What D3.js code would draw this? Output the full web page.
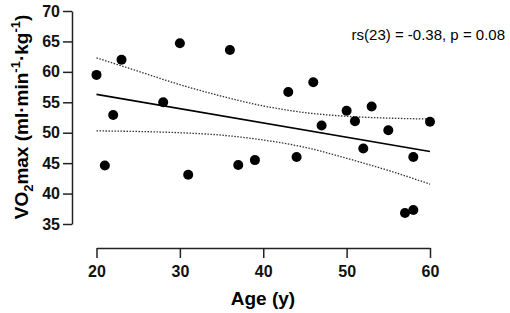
<!DOCTYPE html>
<html>
<head>
<meta charset="utf-8">
<script src="https://cdn.jsdelivr.net/npm/d3@7"></script>
<style>
    body { margin: 0; background: #fff; }
    svg { display: block; font-family: "Liberation Sans", Arial, sans-serif; }
    .axis path, .axis line { stroke: #222; stroke-width: 1.5; }
    .axis text { font-size: 16px; font-weight: bold; fill: #111; }
</style>
</head>
<body>
<div id="chart"></div>
<script>
// Age (y) and VO2max
const ages = [20, 21, 22, 23, 28, 30, 31, 36, 37, 39, 43, 44, 46, 47, 50, 51, 52, 53, 55, 57, 58, 58, 60];
const vo2max = [59.5, 44.6, 52.9, 62.0, 55.0, 64.7, 43.1, 63.6, 44.7, 45.5, 56.7, 46.0, 58.3, 51.2, 53.6, 51.9, 47.4, 54.3, 50.4, 36.8, 37.3, 46.0, 51.8];

// regression line end points
const fitAges = [20, 60];
const fitValues = [56.3, 46.9];

// dotted confidence band, read at a few ages
const bandAges = [20, 25, 30, 35, 40, 45, 50, 55, 60];
const bandUpper = [62.3, 60.1, 57.9, 56.0, 54.4, 53.3, 52.7, 52.4, 52.25];
const bandLower = [50.3, 50.2, 50.0, 49.6, 48.8, 47.6, 45.8, 43.8, 41.55];

const xTicks = [20, 30, 40, 50, 60];
const yTicks = [35, 40, 45, 50, 55, 60, 65, 70];
const statText = "rs(23) = -0.38, p = 0.08";

class ScatterPlot {
    constructor(_parentElement) {
        this.parentElement = _parentElement;
        this.data = ages.map((a, i) => ({ age: a, vo2: vo2max[i] }));
        this.initVis();
    }

    initVis() {
        const vis = this;

        vis.margin = { top: 11, right: 80, bottom: 65, left: 72 };
        vis.width = 510 - vis.margin.left - vis.margin.right;
        vis.height = 313 - vis.margin.top - vis.margin.bottom;

        vis.root = d3.select(vis.parentElement).append("svg")
            .attr("width", 510)
            .attr("height", 313);

        vis.svg = vis.root.append("g")
            .attr("transform", `translate(${vis.margin.left}, ${vis.margin.top})`);

        vis.x = d3.scaleLinear()
            .domain([20, 60])
            .range([24.5, 358]);

        vis.y = d3.scaleLinear()
            .domain([35, 70])
            .range([213, 0]);

        vis.xAxis = d3.axisBottom(vis.x)
            .tickValues(xTicks)
            .tickSizeInner(10)
            .tickSizeOuter(0)
            .tickPadding(8);

        vis.yAxis = d3.axisLeft(vis.y)
            .tickValues(yTicks)
            .tickSizeInner(9)
            .tickSizeOuter(0)
            .tickPadding(3);

        vis.svg.append("g")
            .attr("class", "x axis")
            .attr("transform", "translate(0,237)");

        vis.svg.append("g")
            .attr("class", "y axis");

        // axis titles
        vis.root.append("text")
            .attr("x", 263)
            .attr("y", 305)
            .attr("text-anchor", "middle")
            .style("font-size", "19px")
            .style("font-weight", "bold")
            .text("Age (y)");

        const yTitle = vis.root.append("text")
            .attr("transform", "translate(28,117) rotate(-90)")
            .attr("text-anchor", "middle")
            .style("font-size", "19px")
            .style("font-weight", "bold");
        yTitle.append("tspan").text("VO");
        yTitle.append("tspan").attr("dy", 5).style("font-size", "13px").text("2");
        yTitle.append("tspan").attr("dy", -5).text("max (ml\u00b7min");
        yTitle.append("tspan").attr("dy", -8).style("font-size", "13px").text("-1");
        yTitle.append("tspan").attr("dy", 8).text("\u00b7kg");
        yTitle.append("tspan").attr("dy", -8).style("font-size", "13px").text("-1");
        yTitle.append("tspan").attr("dy", 8).text(")");

        vis.root.append("text")
            .attr("x", 505)
            .attr("y", 40)
            .attr("text-anchor", "end")
            .style("font-size", "15px")
            .text(statText);

        vis.updateVis();
    }

    updateVis() {
        const vis = this;

        vis.svg.select(".x.axis").call(vis.xAxis);
        vis.svg.select(".y.axis").call(vis.yAxis);

        const band = (vals) => d3.line()
            .x((d, i) => vis.x(bandAges[i]))
            .y((d) => vis.y(d))
            .curve(d3.curveMonotoneX)(vals);

        vis.svg.selectAll(".band")
            .data([bandUpper, bandLower])
            .enter().append("path")
            .attr("class", "band")
            .attr("d", d => band(d))
            .attr("fill", "none")
            .attr("stroke", "#333")
            .attr("stroke-width", 1.3)
            .attr("stroke-dasharray", "1.5,1.5");

        vis.svg.append("path")
            .datum(fitAges.map((a, i) => [a, fitValues[i]]))
            .attr("class", "fit")
            .attr("d", d3.line().x(d => vis.x(d[0])).y(d => vis.y(d[1])))
            .attr("fill", "none")
            .attr("stroke", "#000")
            .attr("stroke-width", 1.6);

        vis.svg.selectAll(".dot")
            .data(vis.data)
            .enter().append("circle")
            .attr("class", "dot")
            .attr("cx", d => vis.x(d.age))
            .attr("cy", d => vis.y(d.vo2))
            .attr("r", 5)
            .attr("fill", "#000");
    }
}

new ScatterPlot("#chart");
</script>
</body>
</html>
